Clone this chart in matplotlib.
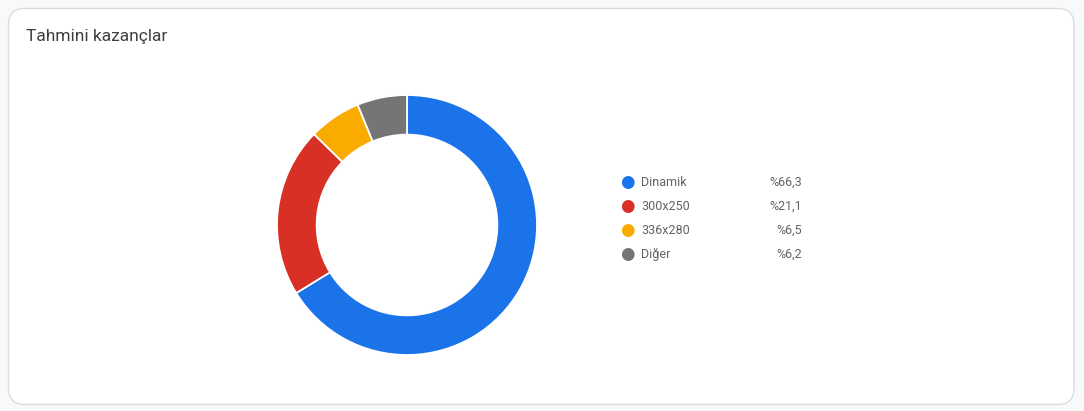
import matplotlib
matplotlib.use("Agg")
import matplotlib.pyplot as plt
from matplotlib.patches import FancyBboxPatch

labels = ["Dinamik", "300x250", "336x280", "Diğer"]
shares = [66.3, 21.1, 6.5, 6.2]
value_text = ["%66,3", "%21,1", "%6,5", "%6,2"]
colors = ["#1a73e8", "#d93025", "#f9ab00", "#757575"]
title = "Tahmini kazançlar"

plt.rcParams['font.family'] = ['Roboto', 'DejaVu Sans']

W, H = 1084, 411
fig = plt.figure(figsize=(W / 100, H / 100), dpi=100)
fig.patch.set_facecolor("#f8f9fa")

# card behind everything
card = FancyBboxPatch((8.5 / W, (H - 404.5) / H), (1074 - 8.5) / W, (404.5 - 8.5) / H,
                      boxstyle="round,pad=0,rounding_size=0.015",
                      transform=fig.transFigure, facecolor="white",
                      edgecolor="#dadce0", linewidth=1.0, mutation_aspect=W / H,
                      zorder=-10)
fig.add_artist(card)

fig.text(26 / W, 1 - 37 / H, title, fontsize=12.5, color="#3c4043", va="center", ha="left")

# donut
ax = fig.add_axes([277 / W, (H - 355) / H, 260 / W, 260 / H])
ax.pie(shares, colors=colors, startangle=90, counterclock=False, radius=1.0,
       wedgeprops=dict(width=0.305, edgecolor="white", linewidth=1.3))
ax.set_xlim(-1, 1)
ax.set_ylim(-1, 1)
ax.set_aspect("equal")
ax.axis("off")

# legend
for i, (lab, val, c) in enumerate(zip(labels, value_text, colors)):
    y = 1 - (182 + 24 * i) / H
    fig.text(627 / W, y, "\u25CF", color=c, fontsize=12, ha="center", va="center",
             family="DejaVu Sans")
    fig.text(641 / W, y, lab, color="#5f6368", fontsize=9, ha="left", va="center")
    fig.text(802 / W, y, val, color="#5f6368", fontsize=9, ha="right", va="center")

fig.savefig("out.png", dpi=100, facecolor=fig.get_facecolor())
